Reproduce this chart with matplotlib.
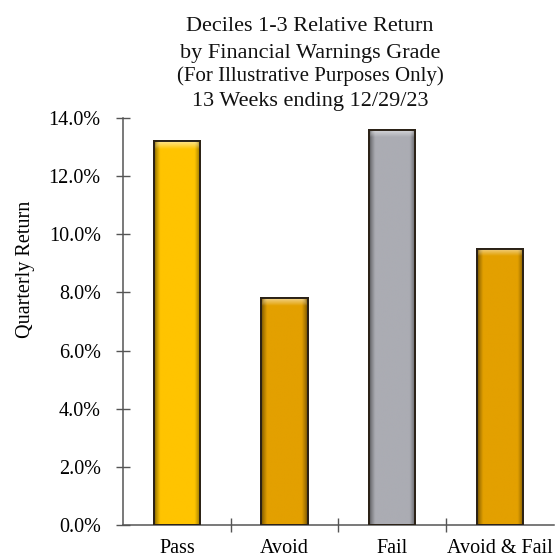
import numpy as np
import matplotlib
matplotlib.use("Agg")
import matplotlib.pyplot as plt
from matplotlib.ticker import FuncFormatter, FixedLocator
from matplotlib.colors import to_rgb

categories = ["Pass", "Avoid", "Fail", "Avoid & Fail"]
returns = [13.2, 7.8, 13.6, 9.5]
bar_colors = ["#FFC400", "#E3A000", "#ABACB3", "#E3A000"]
title_lines = ["Deciles 1-3 Relative Return", "by Financial Warnings Grade",
               "(For Illustrative Purposes Only)", "13 Weeks ending 12/29/23"]

plt.rcParams['font.family'] = ['Liberation Serif', 'DejaVu Serif']

fig = plt.figure(figsize=(5.56, 5.58), dpi=100)
ax = fig.add_axes([0.2212, 0.0591, 0.775, 0.7294])

x = np.arange(len(categories))
bars = ax.bar(x, returns, width=0.43, color=bar_colors, edgecolor="#2b2217",
              linewidth=1.4, zorder=2)


def bevel(patch, color):
    # shaded overlay: dark sides, thin light bevel along the top edge
    base = np.array(to_rgb(color))
    nx, ny = 80, 400
    u = np.linspace(0, 1, nx)
    v = np.linspace(0, 1, ny)
    side = np.clip(np.minimum(u, 1 - u) / 0.13, 0, 1) ** 0.7
    shade = 0.45 + 0.55 * side
    img = np.ones((ny, nx, 3)) * base
    img = img * shade[None, :, None]
    bb = patch.get_bbox()
    top_frac = 0.26 / bb.height  # about 7 px
    t = np.clip((v - (1 - top_frac)) / top_frac, 0, 1)
    hl = np.minimum(t[:, None], side[None, :])
    img = img + (1 - img) * 0.55 * hl[:, :, None]
    img = np.clip(img, 0, 1)
    im = ax.imshow(img, extent=[bb.x0, bb.x1, bb.y0, bb.y1], origin="lower",
                   aspect="auto", zorder=2.1, interpolation="bilinear")
    im.set_clip_path(patch)


for b, c in zip(bars, bar_colors):
    bevel(b, c)
    ax.add_patch(plt.Rectangle((b.get_x(), b.get_y()), b.get_width(), b.get_height(),
                               fill=False, edgecolor="#2b2217", linewidth=1.4, zorder=3))

ax.set_xlim(-0.5, len(categories) - 0.5)
ax.set_ylim(0, 14)
ax.set_yticks(np.arange(0, 15, 2))
ax.yaxis.set_major_formatter(FuncFormatter(lambda v, p: f"{v:.1f}%"))
ax.set_xticks(x)
ax.set_xticklabels(categories, fontsize=14.5)
ax.xaxis.set_minor_locator(FixedLocator(x[:-1] + 0.5))
ax.tick_params(axis="x", which="major", length=0, pad=10)
ax.tick_params(axis="x", which="minor", direction="inout", length=10, width=1, color="#555555")
ax.tick_params(axis="y", direction="inout", length=10, width=1, color="#555555",
               labelsize=14.5, pad=11)

for s in ["top", "right"]:
    ax.spines[s].set_visible(False)
for s in ["left", "bottom"]:
    ax.spines[s].set_color("#555555")
    ax.spines[s].set_linewidth(1.1)

ax.set_ylabel("Quarterly Return", fontsize=14.5)
ax.yaxis.set_label_coords(-0.205, 0.627)

sizes = [16, 16, 15, 16]
ys = [0.952, 0.905, 0.863, 0.818]
for txt, fs, yy in zip(title_lines, sizes, ys):
    fig.text(0.558, yy, txt, ha="center", va="center", fontsize=fs, color="#111111")

fig.savefig("out.png", dpi=100)
